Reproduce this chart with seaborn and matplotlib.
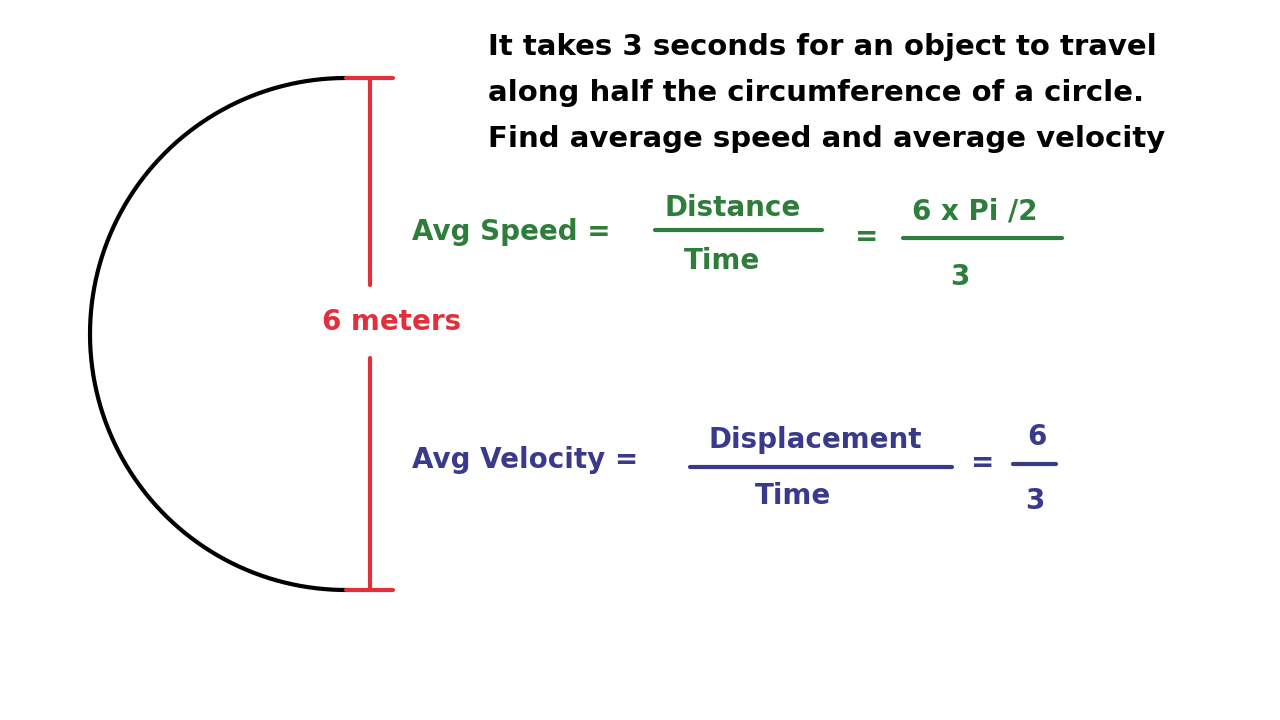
import numpy as np
import matplotlib
matplotlib.use("Agg")
import matplotlib.pyplot as plt
import seaborn as sns

sns.set_style("white")
plt.rcParams["font.family"] = "DejaVu Sans"
plt.rcParams["text.color"] = "black"

# problem values
diameter = 6
travel_time = 3
question = ["It takes 3 seconds for an object to travel",
            "along half the circumference of a circle.",
            "Find average speed and average velocity"]

red = "#E0303C"
green = "#2E7D3A"
blue = "#3A3A8C"

fig = plt.figure(figsize=(12.8, 7.2), dpi=100)
ax = fig.add_axes([0, 0, 1, 1])
ax.set_xlim(0, 1280)
ax.set_ylim(720, 0)
ax.axis("off")

# half circle
cx, cy, r = 346, 334, 256
theta = np.linspace(np.pi / 2, 3 * np.pi / 2, 300)
sns.lineplot(x=cx + r * np.cos(theta), y=cy - r * np.sin(theta), sort=False,
             color="black", lw=3, ax=ax, estimator=None)

# diameter marker
ax.plot([370, 370], [78, 285], color=red, lw=3)
ax.plot([370, 370], [358, 590], color=red, lw=3)
ax.plot([346, 393], [78, 78], color=red, lw=3)
ax.plot([346, 393], [590, 590], color=red, lw=3)
ax.text(392, 322, f"{diameter} meters", color=red, fontsize=20, fontweight="bold",
        ha="center", va="center")

# question
for i, line in enumerate(question):
    ax.text(488, 47 + i * 46, line, fontsize=21, fontweight="bold",
            ha="left", va="center", color="black")

fk = dict(fontsize=20, fontweight="bold", va="center")

# average speed
ax.text(412, 232, "Avg Speed =", color=green, ha="left", **fk)
ax.text(733, 208, "Distance", color=green, ha="center", **fk)
ax.plot([655, 822], [230, 230], color=green, lw=3)
ax.text(722, 261, "Time", color=green, ha="center", **fk)
ax.text(867, 237, "=", color=green, ha="center", **fk)
ax.text(975, 211, f"{diameter} x Pi /2", color=green, ha="center", **fk)
ax.plot([903, 1062], [238, 238], color=green, lw=3)
ax.text(960, 277, f"{travel_time}", color=green, ha="center", **fk)

# average velocity
ax.text(412, 460, "Avg Velocity =", color=blue, ha="left", **fk)
ax.text(815, 440, "Displacement", color=blue, ha="center", **fk)
ax.plot([690, 952], [467, 467], color=blue, lw=3)
ax.text(793, 496, "Time", color=blue, ha="center", **fk)
ax.text(983, 463, "=", color=blue, ha="center", **fk)
ax.text(1037, 437, f"{diameter}", color=blue, ha="center", **fk)
ax.plot([1013, 1056], [464, 464], color=blue, lw=3)
ax.text(1035, 501, f"{travel_time}", color=blue, ha="center", **fk)

fig.savefig("out.png", dpi=100, facecolor="white")
